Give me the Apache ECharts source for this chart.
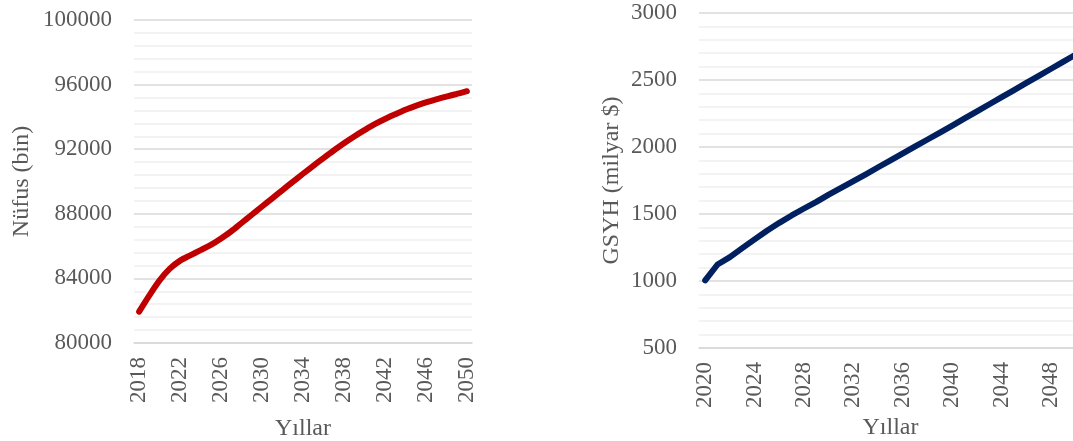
<!DOCTYPE html>
<html>
<head>
<meta charset="utf-8">
<script src="https://cdn.jsdelivr.net/npm/echarts@6/dist/echarts.min.js"></script>
<style>
  html, body { margin: 0; padding: 0; background: #fff; }
  #chart { width: 1073px; height: 441px; }
</style>
</head>
<body>
<div id="chart"></div>
<script>
// nüfus (bin), 2018-2050
const popYears = [];
for (let y = 2018; y <= 2050; y++) popYears.push(String(y));
const popValues = [
  81940, 82950, 83880, 84600, 85100, 85430, 85750, 86070, 86470, 86920,
  87430, 87940, 88450, 88960, 89470, 89980, 90480, 90970, 91450, 91920,
  92370, 92790, 93180, 93550, 93870, 94160, 94440, 94680, 94900, 95090,
  95260, 95420, 95590
];

// GSYH (milyar $), 2020-2050
const gdpYears = [];
for (let y = 2020; y <= 2050; y++) gdpYears.push(String(y));
const gdpValues = [
  1005, 1123, 1178, 1245, 1311, 1375, 1434, 1489, 1541, 1591,
  1645, 1695, 1745, 1796, 1849, 1900, 1952, 2004, 2056, 2108,
  2160, 2213, 2266, 2319, 2372, 2425, 2478, 2531, 2584, 2637,
  2690
];

const FONT = "'Liberation Serif', 'Times New Roman', serif";
const TXT = '#595959';

let chart = echarts.init(document.getElementById('chart'));

function xAx(gridIndex, data, gap) {
  return {
    type: 'category',
    gridIndex: gridIndex,
    data: data,
    boundaryGap: true,
    name: 'Yıllar',
    nameLocation: 'middle',
    nameGap: gap,
    nameTextStyle: { fontFamily: FONT, fontSize: 24, color: TXT },
    axisLine: { lineStyle: { color: '#d9d9d9', width: 1.5 } },
    axisTick: { show: false },
    axisLabel: {
      interval: 3,
      rotate: 90,
      margin: 14,
      fontFamily: FONT,
      fontSize: 23,
      color: TXT
    },
    splitLine: { show: false }
  };
}

function yAx(gridIndex, name, min, max, interval, gap) {
  return {
    type: 'value',
    gridIndex: gridIndex,
    min: min,
    max: max,
    interval: interval,
    name: name,
    nameLocation: 'middle',
    nameGap: gap,
    nameTextStyle: { fontFamily: FONT, fontSize: 24, color: TXT },
    axisLine: { show: false },
    axisTick: { show: false },
    axisLabel: {
      fontFamily: FONT, fontSize: 23, color: TXT, margin: 22,
      formatter: function (v) { return String(v); }
    },
    splitLine: { lineStyle: { color: '#d9d9d9', width: 1.5 } },
    minorTick: { show: false, splitNumber: 5 },
    minorSplitLine: { show: true, lineStyle: { color: '#f0f0f0', width: 1.5 } }
  };
}

let option = {
  backgroundColor: '#fff',
  animation: false,
  grid: [
    { left: 134, right: 601, top: 20, bottom: 98, containLabel: false, outerBoundsMode: 'none' },
    { left: 699, right: -9, top: 13, bottom: 93, containLabel: false, outerBoundsMode: 'none' }
  ],
  xAxis: [
    xAx(0, popYears, 74),
    xAx(1, gdpYears, 68)
  ],
  yAxis: [
    yAx(0, 'Nüfus (bin)', 80000, 100000, 4000, 100),
    yAx(1, 'GSYH (milyar $)', 500, 3000, 500, 75)
  ],
  series: [
    {
      type: 'line',
      xAxisIndex: 0,
      yAxisIndex: 0,
      data: popValues,
      smooth: 0.3,
      symbol: 'none',
      lineStyle: { color: '#c00000', width: 6, cap: 'round' }
    },
    {
      type: 'line',
      xAxisIndex: 1,
      yAxisIndex: 1,
      data: gdpValues,
      symbol: 'none',
      lineStyle: { color: '#002060', width: 6, cap: 'round', join: 'round' }
    }
  ]
};

chart.setOption(option);
</script>
</body>
</html>
